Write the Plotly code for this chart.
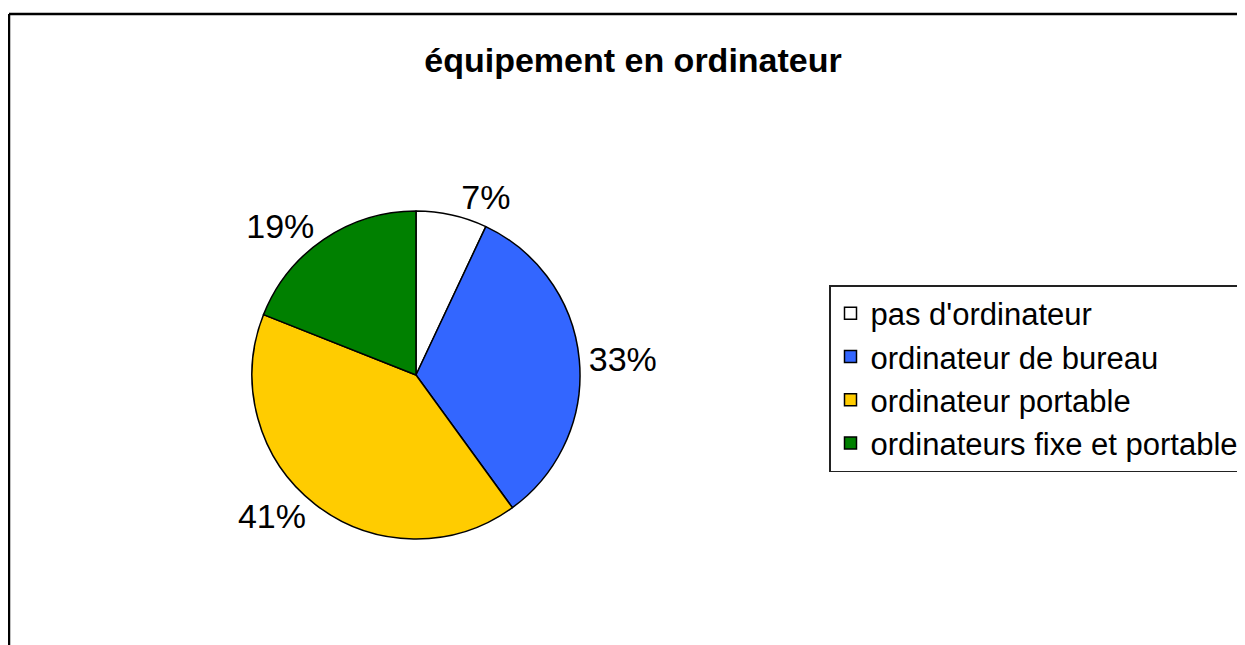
import plotly.graph_objects as go

labels = ["pas d'ordinateur", "ordinateur de bureau", "ordinateur portable",
          "ordinateurs fixe et portable"]
values = [7, 33, 41, 19]
colors = ["#FFFFFF", "#3366FF", "#FFCC00", "#008000"]

W, H = 1245, 645
OFF = 8  # page body margin

def px(x):
    return (x - OFF) / W

def py(y):
    return 1 - (y - OFF) / H

fig = go.Figure(go.Pie(
    labels=labels,
    values=values,
    sort=False,
    direction="clockwise",
    rotation=0,
    marker=dict(colors=colors, line=dict(color="black", width=1.5)),
    textinfo="percent",
    texttemplate="%{percent:.0%}",
    textposition="outside",
    outsidetextfont=dict(family="Liberation Sans, Arial", size=34, color="black"),
    domain=dict(x=[px(250), px(582)], y=[py(539), py(211)]),
))

fig.update_layout(
    width=W, height=H,
    margin=dict(l=0, r=0, t=0, b=0),
    paper_bgcolor="white",
    plot_bgcolor="white",
    font=dict(family="Liberation Sans, Arial", color="black"),
    title=dict(text="<b>équipement en ordinateur</b>", x=px(633), xanchor="center",
               y=py(60), yanchor="middle",
               font=dict(size=34, family="Liberation Sans, Arial", color="black")),
    legend=dict(x=px(829), xanchor="left", y=py(285), yanchor="top",
                bordercolor="#222222", borderwidth=1.5, bgcolor="white",
                font=dict(size=31, family="Liberation Sans, Arial", color="black")),
    shapes=[
        dict(type="line", xref="paper", yref="paper", x0=px(9), x1=px(9),
             y0=py(14), y1=-0.05, line=dict(color="black", width=2.5)),
        dict(type="line", xref="paper", yref="paper", x0=px(9), x1=1.05,
             y0=py(14), y1=py(14), line=dict(color="black", width=2.5)),
    ],
)

fig.write_html("out.html")
